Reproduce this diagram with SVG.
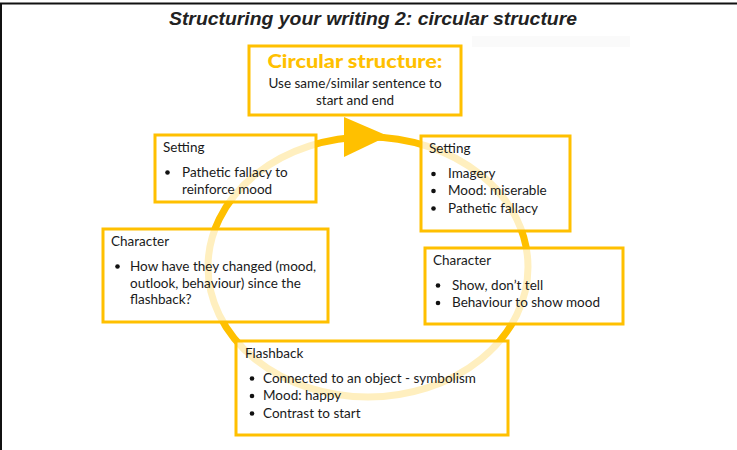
<svg xmlns="http://www.w3.org/2000/svg" width="737" height="450" viewBox="0 0 737 450">
<style>
.box{fill:#ffffff;fill-opacity:0.75;stroke:#FFC000;stroke-width:3}
.t{font-family:Lato,"Liberation Sans",sans-serif;font-size:13.5px;fill:#1a1a1a}
.dot{fill:#111}
.title{font-family:"Liberation Sans",Arial,sans-serif;font-size:19px;font-weight:bold;font-style:italic;fill:#222}
.head{font-family:Lato,"Liberation Sans",sans-serif;font-size:19px;font-weight:900;fill:#FFC000}
</style>
<rect width="737" height="450" fill="#ffffff"/>
<rect x="472" y="36" width="158" height="11" fill="#fafafa"/>
<line x1="0" y1="3.5" x2="737" y2="3.5" stroke="#111" stroke-width="2"/>
<line x1="1" y1="3" x2="1" y2="450" stroke="#111" stroke-width="2"/>
<text class="title" x="373" y="25" text-anchor="middle" textLength="408" lengthAdjust="spacingAndGlyphs">Structuring your writing 2: circular structure</text>
<g id="connectors">
<ellipse cx="368" cy="267" rx="160" ry="130" fill="none" stroke="#FFC000" stroke-width="7"/>
<polygon points="344,117 344,157 388,136" fill="#FFC000"/>
</g>
<g id="circular">
<rect class="box" x="249" y="46" width="212" height="69"/>
<text class="head" x="355" y="68" text-anchor="middle" textLength="175" lengthAdjust="spacingAndGlyphs">Circular structure:</text>
<text class="t" x="355" y="88" text-anchor="middle">Use same/similar sentence to</text>
<text class="t" x="355" y="105" text-anchor="middle">start and end</text>
</g>
<g id="setting-left">
<rect class="box" x="155" y="135" width="161" height="67"/>
<text class="t" x="163" y="152">Setting</text>
<circle class="dot" cx="167.5" cy="172.5" r="2.3"/>
<text class="t" x="182" y="177">Pathetic fallacy to</text>
<text class="t" x="182" y="194">reinforce mood</text>
</g>
<g id="setting-right">
<rect class="box" x="421" y="136" width="149" height="95"/>
<text class="t" x="429" y="153">Setting</text>
<circle class="dot" cx="433.5" cy="174" r="2.3"/>
<text class="t" x="448" y="178">Imagery</text>
<circle class="dot" cx="433.5" cy="191" r="2.3"/>
<text class="t" x="448" y="195">Mood: miserable</text>
<circle class="dot" cx="433.5" cy="208.5" r="2.3"/>
<text class="t" x="448" y="213">Pathetic fallacy</text>
</g>
<g id="character-left">
<rect class="box" x="103" y="229" width="225" height="93"/>
<text class="t" x="111" y="246">Character</text>
<circle class="dot" cx="117.5" cy="266.5" r="2.3"/>
<text class="t" x="130" y="271">How have they changed (mood,</text>
<text class="t" x="130" y="288">outlook, behaviour) since the</text>
<text class="t" x="130" y="304">flashback?</text>
</g>
<g id="character-right">
<rect class="box" x="425" y="248" width="198" height="76"/>
<text class="t" x="433" y="265">Character</text>
<circle class="dot" cx="438" cy="285.5" r="2.3"/>
<text class="t" x="452" y="290">Show, don’t tell</text>
<circle class="dot" cx="438" cy="303" r="2.3"/>
<text class="t" x="452" y="307">Behaviour to show mood</text>
</g>
<g id="flashback">
<rect class="box" x="236" y="341" width="272" height="94"/>
<text class="t" x="245" y="358">Flashback</text>
<circle class="dot" cx="252" cy="378.5" r="2.3"/>
<text class="t" x="263" y="383">Connected to an object - symbolism</text>
<circle class="dot" cx="252" cy="396" r="2.3"/>
<text class="t" x="263" y="400">Mood: happy</text>
<circle class="dot" cx="252" cy="413.5" r="2.3"/>
<text class="t" x="263" y="418">Contrast to start</text>
</g>
</svg>
